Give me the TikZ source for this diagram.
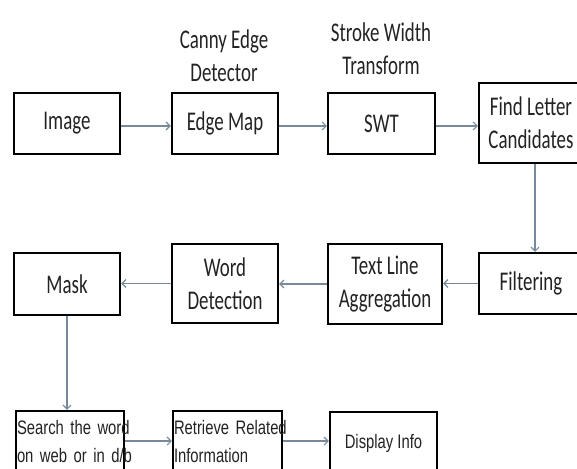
\documentclass[tikz,border=0pt]{standalone}
\usepackage{fontspec}
\usetikzlibrary{arrows.meta}
\newfontfamily\boxfont{Carlito}[FakeStretch=0.7]
\newfontfamily\arialfont{Liberation Sans}[FakeStretch=0.76]
\definecolor{flowline}{RGB}{118,138,155}
\definecolor{inktext}{RGB}{35,35,35}
\tikzset{
  stepbox/.style={draw=black, line width=2.4pt, fill=white, inner sep=0pt,
    align=center, text=inktext, font=\boxfont\fontsize{27}{33}\selectfont},
  smallbox/.style={draw=black, line width=2.4pt, fill=white, inner xsep=1pt,
    inner ysep=0pt, align=left, text=inktext,
    font=\arialfont\fontsize{19.5}{28}\selectfont},
  caption/.style={align=center, text=inktext, font=\boxfont\fontsize{27}{33}\selectfont},
  flow/.style={draw=flowline, line width=1.1pt, -{Straight Barb[length=4pt,width=8pt]}}
}
\begin{document}
\begin{tikzpicture}[x=1pt,y=-1pt]
\useasboundingbox (0,0) rectangle (577,468);
\clip (0,0) rectangle (577,468);

% first row
\node[stepbox, minimum width=106, minimum height=61] (img)  at (67,123.5)  {Image};
\node[stepbox, minimum width=106, minimum height=61] (edge) at (225,123.5) {Edge Map};
\node[stepbox, minimum width=107, minimum height=61] (swt)  at (381.5,123.5) {SWT};
\node[stepbox, minimum width=104, minimum height=80] (find) at (531,123)   {Find Letter\\Candidates};

\node[caption] (canny)  at (224,56) {Canny Edge\\Detector};
\node[caption] (stroke) at (381,49) {Stroke Width\\Transform};

% second row
\node[stepbox, minimum width=104, minimum height=61] (filt) at (531,283.5) {Filtering};
\node[stepbox, minimum width=114, minimum height=80] (tla)  at (385,284)   {Text Line\\Aggregation};
\node[stepbox, minimum width=106, minimum height=79] (word) at (225,283.5) {Word\\Detection};
\node[stepbox, minimum width=106, minimum height=62] (mask) at (67,284)    {Mask};

% third row: boxes run past the lower edge
\node[smallbox, text width=106, minimum height=62] (search)   at (70,442)
  {\mbox{Search the word}\\\mbox{on web or in d/b}};
\node[smallbox, text width=107, minimum height=62] (retrieve) at (227.5,442)
  {\mbox{Retrieve Related}\\\mbox{Information}};
\node[stepbox, font=\arialfont\fontsize{19.5}{28}\selectfont,
      minimum width=107, minimum height=62] (disp) at (383.5,443) {Display Info};

% connectors
\draw[flow] ([yshift=-2.5]img.east)  -- ([yshift=-2.5]img.east -| edge.west);
\draw[flow] ([yshift=-2.5]edge.east) -- ([yshift=-2.5]edge.east -| swt.west);
\draw[flow] ([yshift=-2.5]swt.east)  -- ([yshift=-2.5]swt.east -| find.west);
\draw[flow] ([xshift=4]find.south) -- ([xshift=4]find.south |- filt.north);
\draw[flow] (filt.west) -- (filt.west -| tla.east);
\draw[flow] (tla.west)  -- (tla.west -| word.east);
\draw[flow] (word.west) -- (word.west -| mask.east);
\draw[flow] (mask.south) -- (mask.south |- search.north);
\draw[flow] ([yshift=1]search.east)   -- ([yshift=1]search.east -| retrieve.west);
\draw[flow] ([yshift=1]retrieve.east) -- ([yshift=1]retrieve.east -| disp.west);
\end{tikzpicture}
\end{document}
